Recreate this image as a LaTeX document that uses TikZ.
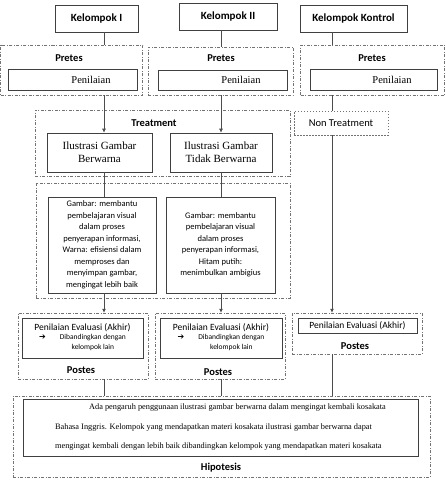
\documentclass[tikz,border=0pt]{standalone}
\usepackage{fontspec}
\setmainfont{Liberation Serif}
\newfontfamily\calfont{Carlito}
\newfontfamily\dingfont{DejaVu Sans}
\usetikzlibrary{positioning,arrows.meta}
\newcommand{\fsz}[2]{\fontsize{#1}{#2}\selectfont}
\newcommand{\arr}{{\dingfont\fsz{8}{8}➔}}
\newcommand{\penil}{\hspace*{37pt}Penilaian}

\begin{document}
\begin{tikzpicture}[
  x=1pt, y=-1pt,
  groupbox/.style={rectangle, draw=black!55, line width=0.5pt, dash pattern=on 3pt off 1.5pt on 1pt off 1.5pt, inner sep=0pt},
  dotbox/.style={rectangle, draw=black!55, line width=0.5pt, dash pattern=on 1.5pt off 1.5pt, inner sep=0pt},
  headbox/.style={rectangle, draw=black!75, line width=0.9pt, inner sep=0pt, font=\calfont\bfseries\fsz{11}{13}},
  box/.style={rectangle, draw=black!75, line width=0.7pt, inner sep=0pt, align=center},
  title/.style={inner sep=0pt, font=\calfont\bfseries\fsz{10.5}{12}},
  link/.style={draw=black!70, line width=0.7pt},
  arrow/.style={link, -{Latex[length=4pt,width=4pt]}}
]
\useasboundingbox (0,0) rectangle (445,493);

% Groups
\node[headbox, minimum width=83, minimum height=27] (kel1) at (96.5,18.5) {Kelompok I};
\node[headbox, minimum width=98, minimum height=27] (kel2) at (228,16.5) {Kelompok II};
\node[headbox, minimum width=107, minimum height=27] (kel3) at (353.5,18.5) {Kelompok Kontrol};

% Pretes
\node[groupbox, minimum width=142, minimum height=50] (pre1) at (71.5,70) {};
\node[groupbox, minimum width=145, minimum height=48] (pre2) at (220.5,71) {};
\node[groupbox, minimum width=144, minimum height=50] (pre3) at (372.5,70) {};
\node[title] (pt1) at (69,58) {Pretes};
\node[title] (pt2) at (221,58) {Pretes};
\node[title] (pt3) at (372,58) {Pretes};
\node[box, minimum width=129, minimum height=21, font=\fsz{10.5}{12}] (pen1) at (72.5,79.5) {\penil};
\node[box, minimum width=129, minimum height=20, font=\fsz{10.5}{12}] (pen2) at (222.5,80) {\penil};
\node[box, minimum width=127, minimum height=21, font=\fsz{10.5}{12}] (pen3) at (373.5,79.5) {\penil};

% Treatment
\node[groupbox, minimum width=255, minimum height=66] (treat) at (162.5,143) {};
\node[title] (tt) at (154,123) {Treatment};
\node[box, minimum width=105, minimum height=39, font=\fsz{11}{13}] (ilus1) at (99.5,152.5) {Ilustrasi Gambar\\Berwarna};
\node[box, minimum width=102, minimum height=39, font=\fsz{11}{13}] (ilus2) at (221,152.5) {Ilustrasi Gambar\\Tidak Berwarna};
\node[dotbox, minimum width=94, minimum height=24, font=\calfont\fsz{10.5}{12}] (non) at (341,123) {Non Treatment};

% Gambar
\node[groupbox, minimum width=254, minimum height=115] (grp) at (163,240.5) {};
\node[box, minimum width=108, minimum height=96, font=\calfont\fsz{8.5}{11.5}] (gam1) at (102,245)
  {Gambar: membantu\\pembelajaran visual\\dalam proses\\penyerapan informasi,\\Warna: efisiensi dalam\\memproses dan\\menyimpan gambar,\\mengingat lebih baik};
\node[box, minimum width=109, minimum height=96, font=\calfont\fsz{8.5}{11.5}] (gam2) at (220.5,245)
  {Gambar: membantu\\pembelajaran visual\\dalam proses\\penyerapan informasi,\\Hitam putih:\\menimbulkan ambigius};

% Postes
\node[groupbox, minimum width=130, minimum height=66] (post1) at (83,346) {};
\node[groupbox, minimum width=130, minimum height=66] (post2) at (220,346) {};
\node[groupbox, minimum width=130, minimum height=41] (post3) at (357,333.5) {};
\node[box, minimum width=121, minimum height=40, font=\calfont\fsz{9.5}{11}] (eval1) at (82.5,338)
  {Penilaian Evaluasi (Akhir)\\{\fsz{7.5}{10}\begin{tabular}{@{}l@{\hspace{14pt}}c@{}}\arr & Dibandingkan dengan\\ & kelompok lain\end{tabular}}};
\node[box, minimum width=122, minimum height=40, font=\calfont\fsz{9.5}{11}] (eval2) at (221,338)
  {Penilaian Evaluasi (Akhir)\\{\fsz{7.5}{10}\begin{tabular}{@{}l@{\hspace{14pt}}c@{}}\arr & Dibandingkan dengan\\ & kelompok lain\end{tabular}}};
\node[box, minimum width=119, minimum height=15, font=\calfont\fsz{9.5}{11}] (eval3) at (357.5,325.5) {Penilaian Evaluasi (Akhir)};
\node[title] (ps1) at (81,370) {Postes};
\node[title] (ps2) at (218,372) {Postes};
\node[title] (ps3) at (355,346) {Postes};

% Hipotesis
\node[groupbox, minimum width=417, minimum height=81] (hipg) at (221.5,436.5) {};
\node[box, minimum width=395, minimum height=57, align=left, font=\fsz{8.3}{19.5}] (hip) at (220.5,427.5)
  {\hspace*{34pt}Ada pengaruh penggunaan ilustrasi gambar berwarna dalam mengingat kembali kosakata\\
   Bahasa Inggris. Kelompok yang mendapatkan materi kosakata ilustrasi gambar berwarna dapat\\
   mengingat kembali dengan lebih baik dibandingkan kelompok yang mendapatkan materi kosakata};
\node[title] (ht) at (221,468) {Hipotesis};

% Connectors
\coordinate (c1) at (104,0);
\coordinate (c2) at (221,0);
\coordinate (c3) at (332,0);
\foreach \c/\k/\p/\i/\g/\q in {c1/kel1/pre1/ilus1/gam1/post1, c2/kel2/pre2/ilus2/gam2/post2} {
  \draw[link] (\k.south -| \c) -- (\p.north -| \c);
  \draw[arrow] (\p.south -| \c) -- (\i.north -| \c);
  \draw[link] (\i.south -| \c) -- (\g.north -| \c);
  \draw[arrow] (\g.south -| \c) -- (\q.north -| \c);
  \draw[link] (\q.south -| \c) -- (hipg.north -| \c);
}
\draw[link] (kel3.south -| c3) -- (pre3.north -| c3);
\draw[link] (pre3.south -| c3) -- (non.north -| c3);
\draw[arrow] (non.south -| c3) -- (post3.north -| c3);
\draw[link] (post3.south -| c3) -- (hipg.north -| c3);

\end{tikzpicture}
\end{document}
